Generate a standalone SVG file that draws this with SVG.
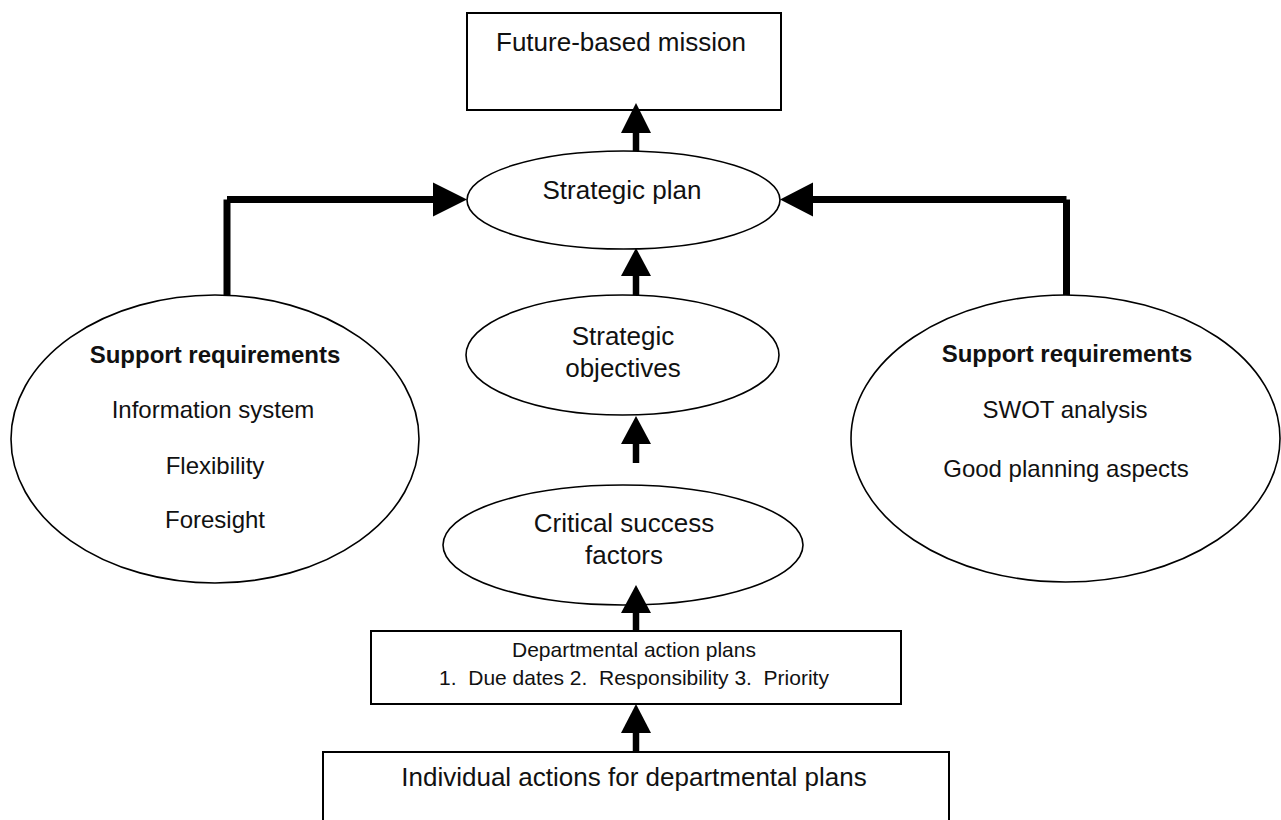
<svg xmlns="http://www.w3.org/2000/svg" width="1281" height="820" viewBox="0 0 1281 820">
<style>
  .box { fill: #ffffff; stroke: #000000; stroke-width: 2; }
  .ell { fill: #ffffff; stroke: #000000; stroke-width: 1.6; }
  .t { font-family: "Liberation Sans", Arial, sans-serif; fill: #111111; text-anchor: middle; }
  .c26 { font-size: 26px; }
  .c24 { font-size: 24px; }
  .c21 { font-size: 21px; }
  .b { font-weight: bold; }
  .shaft { stroke: #000000; stroke-width: 6.5; fill: none; stroke-linecap: butt; }
  .head { fill: #000000; stroke: none; }
</style>
<rect width="1281" height="820" fill="#ffffff"/>

<g id="future-mission">
  <rect class="box" x="467" y="13" width="314" height="97"/>
  <text class="t c26" x="621" y="51">Future-based mission</text>
</g>

<g id="strategic-plan">
  <ellipse class="ell" cx="623.5" cy="200" rx="156.5" ry="49"/>
  <text class="t c26" x="622" y="199">Strategic plan</text>
</g>

<g id="strategic-objectives">
  <ellipse class="ell" cx="622.5" cy="355" rx="156.5" ry="60"/>
  <text class="t c26" x="623" y="345">Strategic</text>
  <text class="t c26" x="623" y="377">objectives</text>
</g>

<g id="critical-success-factors">
  <ellipse class="ell" cx="623" cy="545" rx="180" ry="60"/>
  <text class="t c26" x="624" y="532">Critical success</text>
  <text class="t c26" x="624" y="564">factors</text>
</g>

<g id="support-left">
  <ellipse class="ell" cx="215" cy="439" rx="204" ry="144"/>
  <text class="t c24 b" x="215" y="363">Support requirements</text>
  <text class="t c24" x="213" y="418">Information system</text>
  <text class="t c24" x="215" y="474">Flexibility</text>
  <text class="t c24" x="215" y="528">Foresight</text>
</g>

<g id="support-right">
  <ellipse class="ell" cx="1065.5" cy="438.5" rx="214.5" ry="143.5"/>
  <text class="t c24 b" x="1067" y="362">Support requirements</text>
  <text class="t c24" x="1065" y="418">SWOT analysis</text>
  <text class="t c24" x="1066" y="477">Good planning aspects</text>
</g>

<g id="departmental-action-plans">
  <rect class="box" x="371" y="631" width="530" height="73"/>
  <text class="t c21" x="634" y="657">Departmental action plans</text>
  <text class="t c21" x="634" y="685" xml:space="preserve">1.  Due dates 2.  Responsibility 3.  Priority</text>
</g>

<g id="individual-actions">
  <rect class="box" x="323" y="752" width="626" height="80"/>
  <text class="t c26" x="634" y="786">Individual actions for departmental plans</text>
</g>

<g id="connectors">
  <line class="shaft" x1="636" y1="151" x2="636" y2="132"/>
  <polygon class="head" points="636,103 621,133 651,133"/>

  <line class="shaft" x1="636" y1="295" x2="636" y2="275"/>
  <polygon class="head" points="636,248 621,276 651,276"/>

  <line class="shaft" x1="636" y1="463" x2="636" y2="443"/>
  <polygon class="head" points="636,416 621,444 651,444"/>

  <line class="shaft" x1="636" y1="631" x2="636" y2="612"/>
  <polygon class="head" points="636,585 621,613 651,613"/>

  <line class="shaft" x1="636" y1="752" x2="636" y2="732"/>
  <polygon class="head" points="636,704 621,733 651,733"/>

  <line class="shaft" style="stroke-width:7" x1="227" y1="295" x2="227" y2="199.5"/>
  <line class="shaft" style="stroke-width:7" x1="227" y1="199.5" x2="434" y2="199.5"/>
  <polygon class="head" points="467,199.5 433,182.5 433,216.5"/>

  <line class="shaft" style="stroke-width:7" x1="1066.5" y1="295" x2="1066.5" y2="199.5"/>
  <line class="shaft" style="stroke-width:7" x1="1066.5" y1="199.5" x2="812" y2="199.5"/>
  <polygon class="head" points="780,199.5 813,182.5 813,216.5"/>
</g>
</svg>
